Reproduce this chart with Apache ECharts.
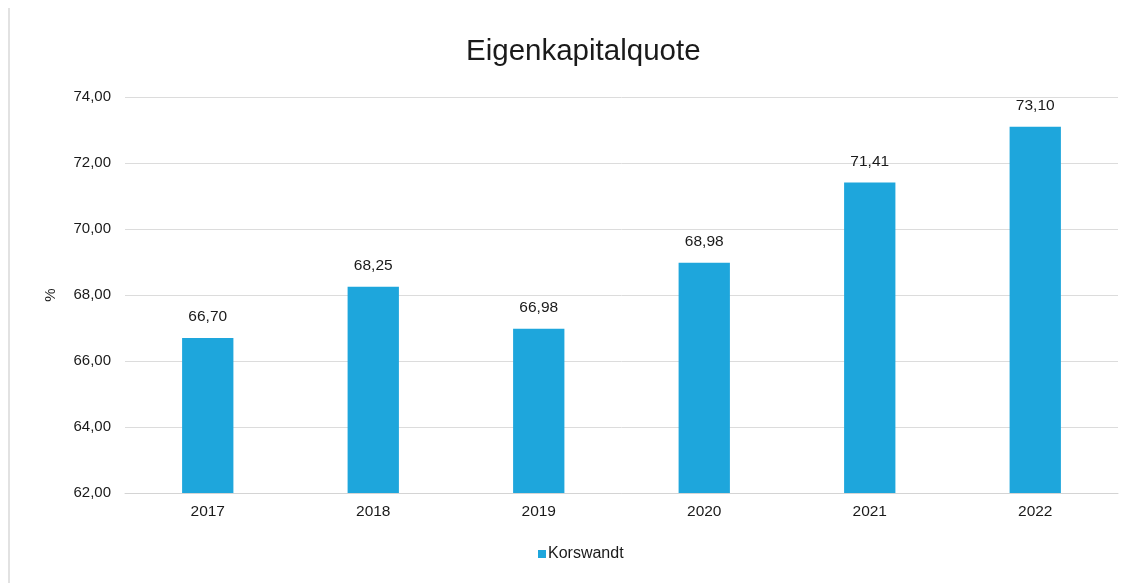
<!DOCTYPE html>
<html>
<head>
<meta charset="utf-8">
<script src="https://cdn.jsdelivr.net/npm/echarts@6/dist/echarts.min.js"></script>
<style>
  html, body { margin: 0; padding: 0; background: #fff; }
  #chart { width: 1139px; height: 583px; }
</style>
</head>
<body>
<div id="chart"></div>
<script>
// Equity ratio per year (percent)
const years = ['2017', '2018', '2019', '2020', '2021', '2022'];
const quote = [66.70, 68.25, 66.98, 68.98, 71.41, 73.10];
const seriesName = 'Korswandt';
const yTicks = { min: 62, max: 74, step: 2 };

const fmt = v => v.toFixed(2).replace('.', ',');
const font = '"Liberation Sans", Arial, sans-serif';

const chart = echarts.init(document.getElementById('chart'), null, { renderer: 'canvas' });
chart.setOption({
  animation: false,
  backgroundColor: '#ffffff',
  textStyle: { fontFamily: font },
  title: {
    text: 'Eigenkapitalquote',
    left: 461,
    top: 32,
    textStyle: { fontFamily: font, fontSize: 29.5, fontWeight: 'normal', color: '#1a1a1a' }
  },
  legend: {
    data: [seriesName],
    bottom: 16,
    left: 533,
    icon: 'rect',
    itemWidth: 8,
    itemHeight: 8,
    itemGap: 4,
    textStyle: { fontFamily: font, fontSize: 16, color: '#1a1a1a', padding: [0, 0, 0, -3] }
  },
  grid: { left: 125, right: 21, top: 97, bottom: 90, containLabel: false },
  xAxis: {
    type: 'category',
    data: years,
    axisTick: { show: false },
    axisLine: { show: true, lineStyle: { color: '#d4d4d4', width: 1 } },
    axisLabel: { fontFamily: font, fontSize: 15.5, color: '#1a1a1a', margin: 11 }
  },
  yAxis: {
    type: 'value',
    name: '%',
    nameLocation: 'middle',
    nameGap: 67,
    nameRotate: 90,
    nameTextStyle: { fontFamily: font, fontSize: 15, color: '#1a1a1a' },
    min: yTicks.min,
    max: yTicks.max,
    interval: yTicks.step,
    axisLine: { show: false },
    axisTick: { show: false },
    splitLine: { lineStyle: { color: '#dcdcdc', width: 1 } },
    axisLabel: { fontFamily: font, fontSize: 15, color: '#1a1a1a', margin: 14, formatter: v => fmt(v) }
  },
  series: [{
    name: seriesName,
    type: 'bar',
    data: quote,
    barWidth: '31%',
    itemStyle: { color: '#1ea6dc' },
    label: {
      show: true,
      position: 'top',
      distance: 13,
      fontFamily: font,
      fontSize: 15.5,
      color: '#1a1a1a',
      formatter: p => fmt(p.value)
    }
  }],
  graphic: [{
    type: 'rect',
    shape: { x: 8, y: 8, width: 2, height: 575 },
    style: { fill: '#e2e2e2' },
    silent: true
  }]
});
</script>
</body>
</html>
